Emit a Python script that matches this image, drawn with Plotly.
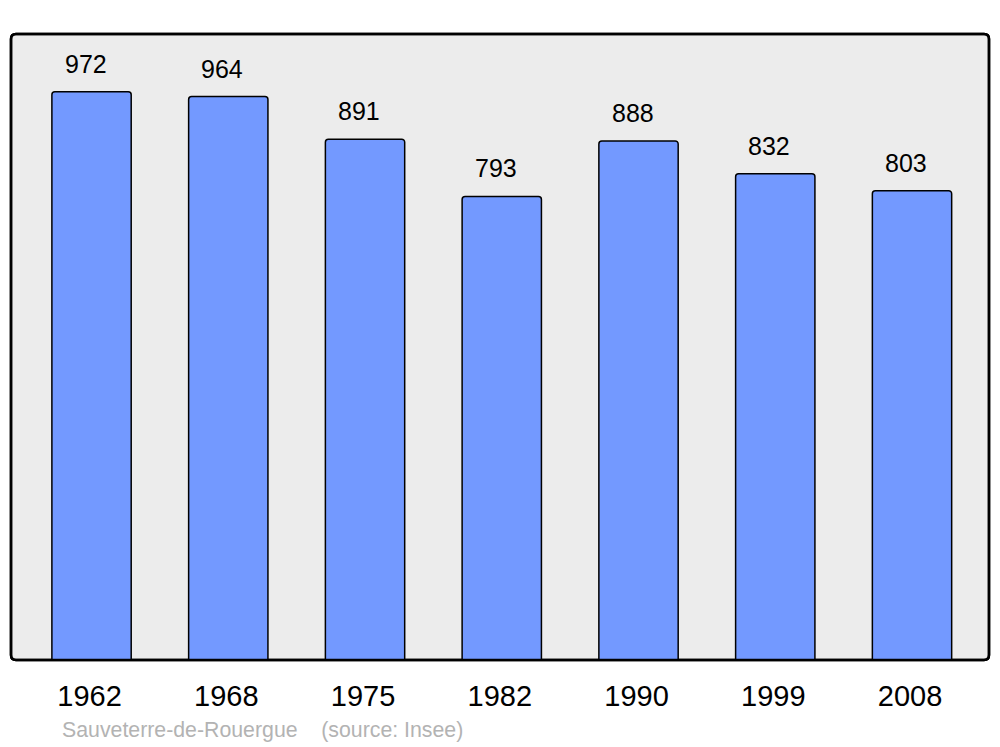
import plotly.graph_objects as go

years = ["1962", "1968", "1975", "1982", "1990", "1999", "2008"]
population = [972, 964, 891, 793, 888, 832, 803]
footer_text = "Sauveterre-de-Rouergue\u00a0\u00a0\u00a0\u00a0(source: Insee)"

W, H = 1000, 747
OFF = 8  # page body margin
ml, mt = 11 - OFF, 34 - OFF
mr = W - (989 - OFF)
mb = H - (660 - OFF)
pw, ph = W - ml - mr, H - mt - mb

xpos = list(range(len(years)))
FONT = "Liberation Sans, Arial, sans-serif"

fig = go.Figure()
fig.add_trace(go.Bar(
    x=xpos, y=population, width=0.58,
    marker=dict(color="#7399ff", line=dict(color="#000000", width=1.5), cornerradius=3),
    hoverinfo="skip",
))

for xi, v in zip(xpos, population):
    fig.add_annotation(x=xi, y=v, text=str(v), showarrow=False, yshift=28, xshift=-6,
                       font=dict(family=FONT, size=25, color="#000"),
                       xanchor="center", yanchor="middle")

fig.add_annotation(xref="paper", yref="paper", x=(60 - 11) / pw, y=0,
                   text=footer_text, showarrow=False, xanchor="left", yanchor="middle",
                   yshift=-70,
                   font=dict(family=FONT, size=21.3, color="#b3b3b3"))

# rounded frame
rx, ry = 5 / pw, 5 / ph
path = (f"M {rx},0 L {1-rx},0 Q 1,0 1,{ry} L 1,{1-ry} Q 1,1 {1-rx},1 "
        f"L {rx},1 Q 0,1 0,{1-ry} L 0,{ry} Q 0,0 {rx},0 Z")
fig.add_shape(type="path", xref="paper", yref="paper", path=path,
              fillcolor="#ececec", line=dict(color="#000000", width=2.5), layer="below")
fig.add_shape(type="path", xref="paper", yref="paper", path=path,
              fillcolor="rgba(0,0,0,0)", line=dict(color="#000000", width=2.5), layer="above")

fig.update_layout(
    width=W, height=H,
    margin=dict(l=ml, r=mr, t=mt, b=mb),
    paper_bgcolor="#ffffff", plot_bgcolor="rgba(0,0,0,0)",
    showlegend=False,
    xaxis=dict(range=[-0.589, 6.563], tickvals=xpos, ticktext=years,
               showgrid=False, zeroline=False, showline=False,
               ticks="outside", ticklen=10, tickcolor="rgba(0,0,0,0)",
               ticklabelshift=-2,
               tickfont=dict(family=FONT, size=29, color="#000")),
    yaxis=dict(range=[0, 1071], showgrid=False, zeroline=False, showline=False,
               showticklabels=False, ticks=""),
)

fig.write_html("out.html")
